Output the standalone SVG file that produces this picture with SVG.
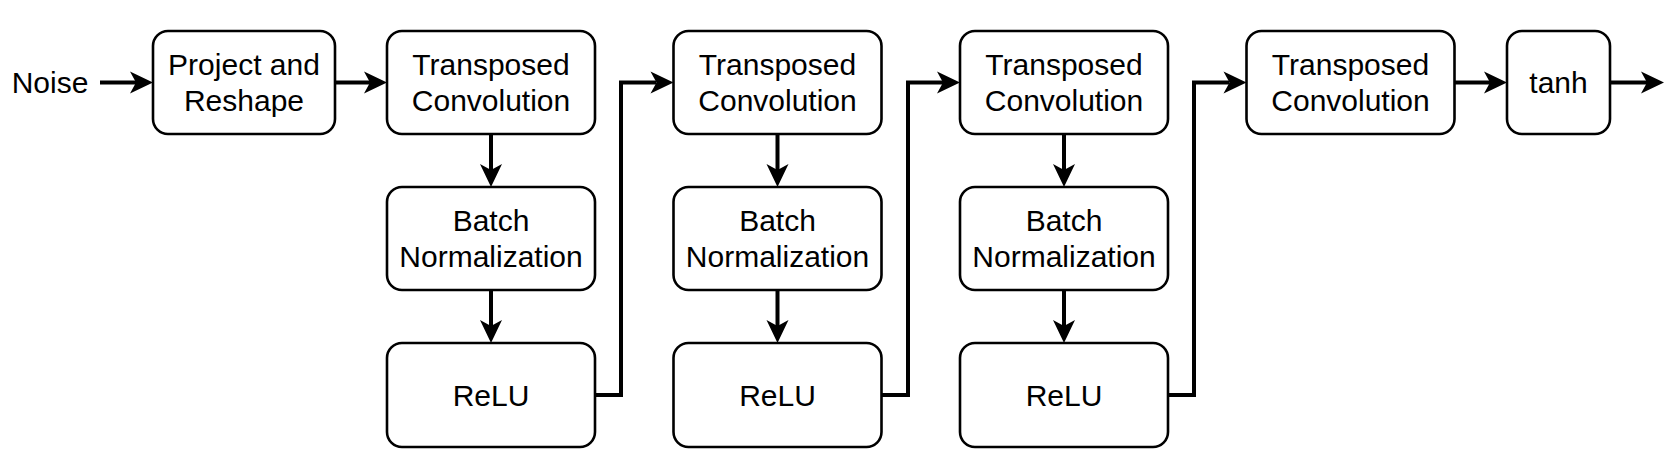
<svg xmlns="http://www.w3.org/2000/svg" width="1671" height="463" viewBox="0 0 1671 463">
<style>
.box{fill:#fff;stroke:#000;stroke-width:2.6}
.t{font-family:"Liberation Sans",Arial,sans-serif;font-size:30px;fill:#000;text-anchor:middle}
.c{fill:none;stroke:#000;stroke-width:4}
</style>
<defs>
<marker id="ah" markerUnits="userSpaceOnUse" markerWidth="24" markerHeight="24" refX="6" refY="11" orient="auto" overflow="visible">
<path d="M0,0 L23,11 L0,22 L6,11 Z" fill="#000"/>
</marker>
</defs>
<rect width="1671" height="463" fill="#fff"/>
<g id="noise"><text class="t" x="50" y="93">Noise</text></g>
<g id="project"><rect class="box" x="153" y="31" width="182" height="103" rx="15"/><text class="t" x="244" y="75">Project and</text><text class="t" x="244" y="111">Reshape</text></g>
<g id="tc1"><rect class="box" x="387" y="31" width="208" height="103" rx="15"/><text class="t" x="491" y="75">Transposed</text><text class="t" x="491" y="111">Convolution</text></g>
<g id="bn1"><rect class="box" x="387" y="187" width="208" height="103" rx="15"/><text class="t" x="491" y="231">Batch</text><text class="t" x="491" y="267">Normalization</text></g>
<g id="relu1"><rect class="box" x="387" y="343" width="208" height="104" rx="15"/><text class="t" x="491" y="406">ReLU</text></g>
<g id="tc2"><rect class="box" x="673.5" y="31" width="208" height="103" rx="15"/><text class="t" x="777.5" y="75">Transposed</text><text class="t" x="777.5" y="111">Convolution</text></g>
<g id="bn2"><rect class="box" x="673.5" y="187" width="208" height="103" rx="15"/><text class="t" x="777.5" y="231">Batch</text><text class="t" x="777.5" y="267">Normalization</text></g>
<g id="relu2"><rect class="box" x="673.5" y="343" width="208" height="104" rx="15"/><text class="t" x="777.5" y="406">ReLU</text></g>
<g id="tc3"><rect class="box" x="960" y="31" width="208" height="103" rx="15"/><text class="t" x="1064" y="75">Transposed</text><text class="t" x="1064" y="111">Convolution</text></g>
<g id="bn3"><rect class="box" x="960" y="187" width="208" height="103" rx="15"/><text class="t" x="1064" y="231">Batch</text><text class="t" x="1064" y="267">Normalization</text></g>
<g id="relu3"><rect class="box" x="960" y="343" width="208" height="104" rx="15"/><text class="t" x="1064" y="406">ReLU</text></g>
<g id="tc4"><rect class="box" x="1246.5" y="31" width="208" height="103" rx="15"/><text class="t" x="1350.5" y="75">Transposed</text><text class="t" x="1350.5" y="111">Convolution</text></g>
<g id="tanh"><rect class="box" x="1507" y="31" width="103" height="103" rx="15"/><text class="t" x="1558.5" y="93">tanh</text></g>
<g id="connectors">
<path class="c" d="M100,82.5 H136" marker-end="url(#ah)"/>
<path class="c" d="M335,82.5 H370" marker-end="url(#ah)"/>
<path class="c" d="M491,134 V170" marker-end="url(#ah)"/>
<path class="c" d="M491,290 V326" marker-end="url(#ah)"/>
<path class="c" d="M595,395 H621 V82.5 H656.5" marker-end="url(#ah)"/>
<path class="c" d="M777.5,134 V170" marker-end="url(#ah)"/>
<path class="c" d="M777.5,290 V326" marker-end="url(#ah)"/>
<path class="c" d="M881.5,395 H908 V82.5 H943" marker-end="url(#ah)"/>
<path class="c" d="M1064,134 V170" marker-end="url(#ah)"/>
<path class="c" d="M1064,290 V326" marker-end="url(#ah)"/>
<path class="c" d="M1168,395 H1194 V82.5 H1229.5" marker-end="url(#ah)"/>
<path class="c" d="M1454.5,82.5 H1490" marker-end="url(#ah)"/>
<path class="c" d="M1610,82.5 H1647" marker-end="url(#ah)"/>
</g>
</svg>
